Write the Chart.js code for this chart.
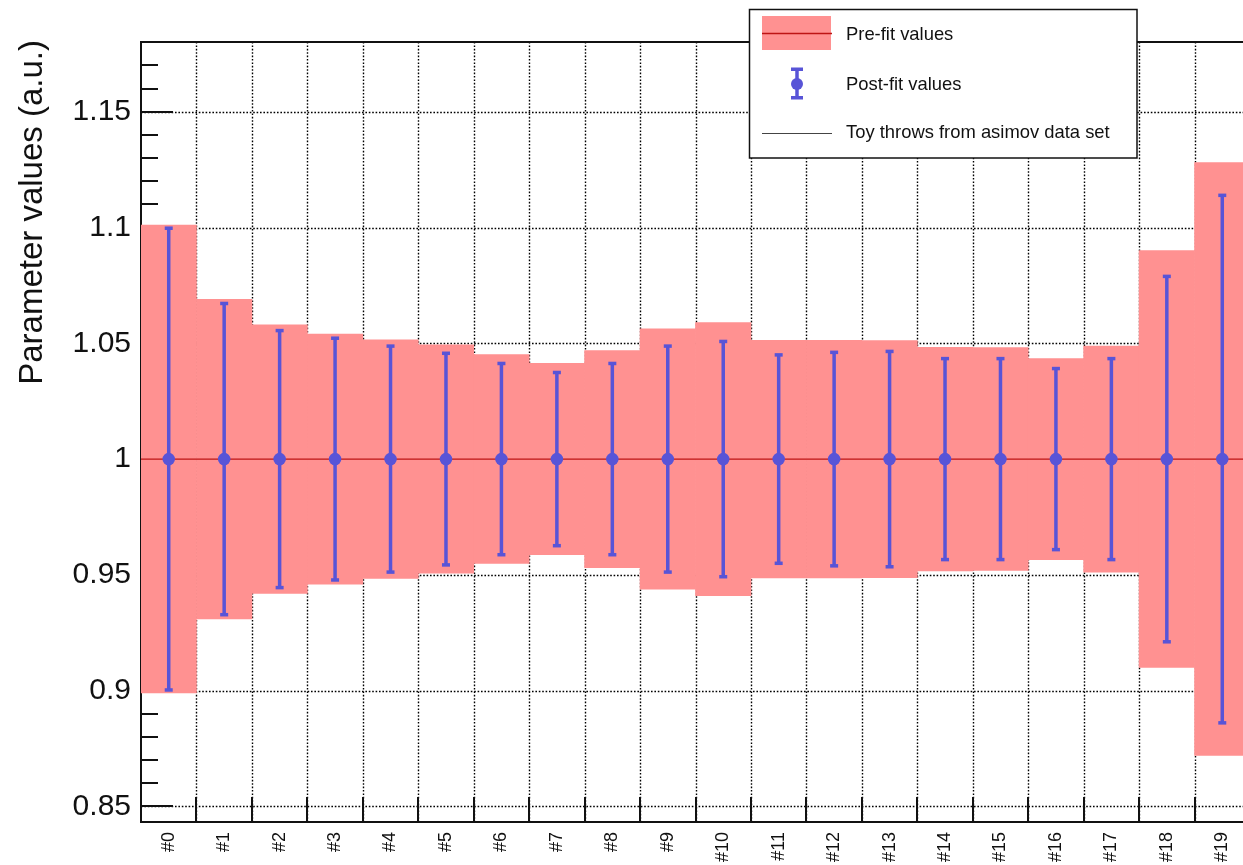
<!DOCTYPE html>
<html>
<head>
<meta charset="utf-8">
<script src="https://cdn.jsdelivr.net/npm/chart.js@4.4.0/dist/chart.umd.min.js"></script>
<style>
html,body{margin:0;padding:0;background:#fff;overflow:hidden;}
#wrap{position:relative;width:1250px;min-width:1250px;height:865px;overflow:visible;}
#c{display:block;width:1250px;height:865px;}
</style>
</head>
<body>
<div id="wrap"><canvas id="c" width="1250" height="865"></canvas></div>
<script>
// ---------------- data ----------------
const bins = ['#0','#1','#2','#3','#4','#5','#6','#7','#8','#9','#10','#11','#12','#13','#14','#15','#16','#17','#18','#19'];
const prefitCentral = [1,1,1,1,1,1,1,1,1,1,1,1,1,1,1,1,1,1,1,1];
const prefitError   = [0.101,0.069,0.058,0.054,0.0515,0.0493,0.0451,0.0413,0.0469,0.0562,0.0590,0.0513,0.0513,0.0512,0.0483,0.0481,0.0434,0.0488,0.090,0.128];
const postfitCentral = [1,1,1,1,1,1,1,1,1,1,1,1,1,1,1,1,1,1,1,1];
const postfitError   = [0.0998,0.0673,0.0556,0.0523,0.0489,0.0458,0.0414,0.0375,0.0414,0.0489,0.0509,0.0451,0.0462,0.0466,0.0435,0.0435,0.0392,0.0435,0.079,0.114];
const yMajorTicks = [0.85,0.9,0.95,1,1.05,1.1,1.15];
const yMin = 0.8433, yMax = 1.1801;
const yTitle = 'Parameter values (a.u.)';
const legendLabels = ['Pre-fit values','Post-fit values','Toy throws from asimov data set'];

// ---------------- style ----------------
const FONT = '"Liberation Sans", Arial, Helvetica, sans-serif';
const PINK = 'rgb(255,145,145)';
const RED = 'rgb(190,20,20)';
const BLUE = 'rgb(88,84,215)';
const INK = '#111';

const bandData = prefitCentral.map((c,i)=>[c-prefitError[i], c+prefitError[i]]);

function drawErrorBar(ctx, px, yt, yb, capW, lw){
  ctx.strokeStyle = BLUE; ctx.fillStyle = BLUE; ctx.lineWidth = lw;
  ctx.beginPath(); ctx.moveTo(px, yt); ctx.lineTo(px, yb); ctx.stroke();
  ctx.fillRect(px-capW/2, yt-1.5, capW, 3.5);
  ctx.fillRect(px-capW/2, yb-2, capW, 3.5);
}

const rootPlugin = {
  id: 'rootStyle',
  beforeDatasetsDraw(chart){
    const {ctx, chartArea:a, scales:{x, y}} = chart;
    const n = bins.length;
    const edges = [];
    for (let i=1;i<n;i++) edges.push((x.getPixelForValue(i-1)+x.getPixelForValue(i))/2);
    ctx.save();
    // dotted grid
    ctx.strokeStyle = '#000'; ctx.lineWidth = 1.4; ctx.setLineDash([1.6,1.8]);
    ctx.beginPath();
    edges.forEach(e=>{ const xx=Math.round(e)+0.5; ctx.moveTo(xx,a.top); ctx.lineTo(xx,a.bottom); });
    yMajorTicks.forEach(v=>{ const yy=Math.round(y.getPixelForValue(v))+0.5; ctx.moveTo(a.left,yy); ctx.lineTo(a.right,yy); });
    ctx.stroke();
    ctx.setLineDash([]);
    // inward ticks
    ctx.strokeStyle = INK; ctx.lineWidth = 2;
    ctx.beginPath();
    for (let k=Math.ceil(yMin*100); k<=Math.floor(yMax*100); k++){
      const yy = Math.round(y.getPixelForValue(k/100));
      const len = (k%5===0) ? 32 : 17;
      ctx.moveTo(a.left, yy); ctx.lineTo(a.left+len, yy);
    }
    edges.forEach(e=>{ const xx=Math.round(e); ctx.moveTo(xx,a.bottom); ctx.lineTo(xx,a.bottom-25); });
    ctx.stroke();
    // frame
    ctx.lineWidth = 2;
    ctx.strokeRect(a.left, a.top, a.right-a.left, a.bottom-a.top);
    ctx.restore();
  },
  afterDatasetDraw(chart, args){
    if (args.index !== 0) return;
    const {ctx, scales:{x, y}} = chart;
    const meta = chart.getDatasetMeta(0);
    ctx.save();
    // pre-fit central line
    ctx.strokeStyle = RED; ctx.lineWidth = 1.3;
    ctx.beginPath();
    meta.data.forEach((bar,i)=>{
      const yy = y.getPixelForValue(prefitCentral[i]);
      ctx.moveTo(bar.x-bar.width/2, yy); ctx.lineTo(bar.x+bar.width/2, yy);
    });
    ctx.stroke();
    // post-fit error bars
    postfitCentral.forEach((c,i)=>{
      const px = x.getPixelForValue(i);
      drawErrorBar(ctx, px, y.getPixelForValue(c+postfitError[i]), y.getPixelForValue(c-postfitError[i]), 8, 3.5);
    });
    ctx.restore();
  },
  afterDraw(chart){
    const ctx = chart.ctx;
    ctx.save();
    // y axis title
    ctx.fillStyle = INK;
    ctx.font = '33px ' + FONT;
    ctx.translate(42, 40);
    ctx.rotate(-Math.PI/2);
    ctx.textAlign = 'right'; ctx.textBaseline = 'alphabetic';
    ctx.fillText(yTitle, 0, 0);
    ctx.restore();
    // legend
    ctx.save();
    ctx.fillStyle = '#fff';
    ctx.fillRect(749.5, 9.5, 387.5, 148.5);
    ctx.strokeStyle = INK; ctx.lineWidth = 1.5;
    ctx.strokeRect(749.5, 9.5, 387.5, 148.5);
    ctx.fillStyle = PINK; ctx.fillRect(762, 16, 69, 34);
    ctx.strokeStyle = RED; ctx.lineWidth = 1.5;
    ctx.beginPath(); ctx.moveTo(762, 33.5); ctx.lineTo(832, 33.5); ctx.stroke();
    drawErrorBar(ctx, 797, 69, 98, 12, 3.5);
    ctx.fillStyle = BLUE; ctx.beginPath(); ctx.arc(797, 84, 6, 0, Math.PI*2); ctx.fill();
    ctx.strokeStyle = '#444'; ctx.lineWidth = 1;
    ctx.beginPath(); ctx.moveTo(762, 133.5); ctx.lineTo(832, 133.5); ctx.stroke();
    ctx.fillStyle = INK; ctx.font = '18.4px ' + FONT;
    ctx.textAlign = 'left'; ctx.textBaseline = 'middle';
    ctx.fillText(legendLabels[0], 846, 35);
    ctx.fillText(legendLabels[1], 846, 85);
    ctx.fillText(legendLabels[2], 846, 133);
    ctx.restore();
  }
};

new Chart(document.getElementById('c'), {
  type: 'bar',
  data: {
    labels: bins,
    datasets: [
      { type:'bar', label:'Pre-fit values', data: bandData, backgroundColor: PINK, borderWidth: 0,
        barPercentage: 1, categoryPercentage: 1, order: 2 },
      { type:'line', label:'Post-fit values', data: postfitCentral, showLine: false,
        pointRadius: 6.3, pointHoverRadius: 6.3, pointBackgroundColor: BLUE, pointBorderWidth: 0, order: 1 }
    ]
  },
  options: {
    responsive: false,
    maintainAspectRatio: false,
    animation: false,
    events: [],
    layout: { autoPadding: false, padding: { top: 42, left: 0, right: 0, bottom: 0 } },
    plugins: { legend: { display: false }, tooltip: { enabled: false } },
    scales: {
      x: {
        type: 'category', offset: true,
        grid: { display: false, drawTicks: false }, border: { display: false },
        ticks: { font: { family: FONT, size: 18 }, color: INK, minRotation: 90, maxRotation: 90, padding: 10, autoSkip: false },
        afterFit(s){ s.height = 43; s.paddingLeft = 0; s.paddingRight = 0; }
      },
      y: {
        type: 'linear', min: yMin, max: yMax,
        grid: { display: false, drawTicks: false }, border: { display: false },
        ticks: { font: { family: FONT, size: 30 }, color: INK, padding: 10, callback: v => String(v) },
        afterBuildTicks(s){ s.ticks = yMajorTicks.map(v => ({ value: v })); },
        afterFit(s){ s.width = 141; s.paddingTop = 0; s.paddingBottom = 0; }
      }
    }
  },
  plugins: [rootPlugin]
});
</script>
</body>
</html>
